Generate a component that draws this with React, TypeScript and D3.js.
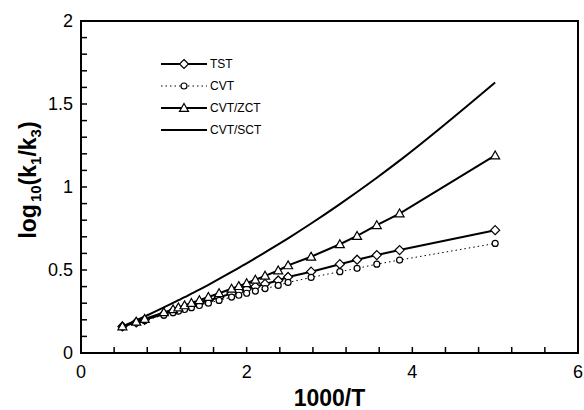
import React from "react";
import * as d3 from "d3";

// 1000/T values shared by every series
const invT = [
  0.5, 0.667, 0.769, 1.0, 1.111, 1.176, 1.25, 1.333, 1.429, 1.538, 1.667,
  1.818, 1.905, 2.0, 2.105, 2.222, 2.381, 2.5, 2.778, 3.125, 3.333, 3.571,
  3.846, 5.0
];

// log10(k1/k3) for each method
const tst = [
  0.16, 0.185, 0.2, 0.235, 0.252, 0.262, 0.273, 0.285, 0.3, 0.316, 0.335,
  0.358, 0.371, 0.385, 0.4, 0.416, 0.437, 0.458, 0.49, 0.535, 0.562, 0.59,
  0.62, 0.74
];
const cvt = [
  0.158, 0.182, 0.196, 0.228, 0.243, 0.252, 0.262, 0.273, 0.286, 0.3, 0.317,
  0.337, 0.348, 0.36, 0.373, 0.388, 0.407, 0.425, 0.455, 0.49, 0.51, 0.535,
  0.56, 0.66
];
const zct = [
  0.16, 0.188, 0.205, 0.245, 0.263, 0.274, 0.287, 0.301, 0.318, 0.337, 0.36,
  0.387, 0.403, 0.42, 0.441, 0.465, 0.497, 0.528, 0.58, 0.655, 0.705, 0.77,
  0.84, 1.19
];
const sct = [
  0.16, 0.197, 0.22, 0.275, 0.302, 0.318, 0.336, 0.358, 0.382, 0.411, 0.446,
  0.488, 0.513, 0.54, 0.571, 0.606, 0.654, 0.691, 0.78, 0.897, 0.97, 1.056,
  1.159, 1.63
];

const legendNames = ["TST", "CVT", "CVT/ZCT", "CVT/SCT"];
const xTicks = [0, 2, 4, 6];
const yTicks = [0, 0.5, 1, 1.5, 2];

const FONT = "'Liberation Sans', Arial, sans-serif";
const W = 584,
  H = 410;
const margin = { left: 81, right: 6, top: 21, bottom: 57 };

const x = d3.scaleLinear().domain([0, 6]).range([margin.left, W - margin.right]);
const y = d3.scaleLinear().domain([0, 2]).range([H - margin.bottom, margin.top]);

type Pt = [number, number];
const line = d3
  .line<Pt>()
  .x(d => x(d[0]))
  .y(d => y(d[1]));
const smooth = d3
  .line<Pt>()
  .curve(d3.curveMonotoneX)
  .x(d => x(d[0]))
  .y(d => y(d[1]));

const zip = (vals: number[]): Pt[] => invT.map((t, i) => [t, vals[i]]);

// marker shapes
const diamond = (cx: number, cy: number, r = 4.5) =>
  `M${cx},${cy - r}L${cx + r},${cy}L${cx},${cy + r}L${cx - r},${cy}Z`;
const triangle = (cx: number, cy: number, r = 4.5) =>
  `M${cx},${cy - r}L${cx + r},${cy + r * 0.75}L${cx - r},${cy + r * 0.75}Z`;

function Marker({ kind, cx, cy }: { kind: string; cx: number; cy: number }) {
  if (kind === "diamond")
    return <path d={diamond(cx, cy)} fill="#fff" stroke="#000" strokeWidth={1.2} />;
  if (kind === "circle")
    return <circle cx={cx} cy={cy} r={3} fill="#fff" stroke="#000" strokeWidth={1.2} />;
  if (kind === "triangle")
    return <path d={triangle(cx, cy)} fill="#fff" stroke="#000" strokeWidth={1.2} />;
  return null;
}

const series = [
  { name: legendNames[0], vals: tst, marker: "diamond", width: 2, dash: "", gen: line },
  { name: legendNames[1], vals: cvt, marker: "circle", width: 1, dash: "1.5,3", gen: line },
  { name: legendNames[2], vals: zct, marker: "triangle", width: 2, dash: "", gen: line },
  { name: legendNames[3], vals: sct, marker: "none", width: 2, dash: "", gen: smooth }
];

export default function App() {
  const x0 = margin.left,
    x1 = W - margin.right,
    y0 = H - margin.bottom,
    y1 = margin.top;
  const xMinor = d3.range(0, 6.001, 0.4);
  const yMinor = d3.range(0, 2.001, 0.1);

  return (
    <svg
      width={W}
      height={H}
      style={{ position: "absolute", left: 0, top: 0, background: "#fff" }}
      fontFamily={FONT}
    >
      <rect x={0} y={0} width={W} height={H} fill="#fff" />

      {/* data lines */}
      {series.map(s => (
        <path
          key={s.name}
          d={s.gen(zip(s.vals)) || ""}
          fill="none"
          stroke="#000"
          strokeWidth={s.width}
          strokeDasharray={s.dash || undefined}
        />
      ))}
      {/* markers */}
      {series.map(s =>
        s.marker === "none"
          ? null
          : zip(s.vals).map((d, i) => (
              <Marker key={s.name + i} kind={s.marker} cx={x(d[0])} cy={y(d[1])} />
            ))
      )}

      {/* frame */}
      <rect x={x0} y={y1} width={x1 - x0} height={y0 - y1} fill="none" stroke="#000" strokeWidth={2} />

      {/* ticks */}
      {xMinor.map((t, i) => (
        <line key={"xt" + i} x1={x(t)} x2={x(t)} y1={y0} y2={y0 - 6} stroke="#000" strokeWidth={1.5} />
      ))}
      {yMinor.map((t, i) => (
        <line key={"yt" + i} x1={x0} x2={x0 + 6} y1={y(t)} y2={y(t)} stroke="#000" strokeWidth={1.5} />
      ))}

      {/* tick labels */}
      {xTicks.map(t => (
        <text key={"xl" + t} x={x(t)} y={y0 + 25} fontSize={18} textAnchor="middle">
          {t}
        </text>
      ))}
      {yTicks.map(t => (
        <text key={"yl" + t} x={x0 - 8} y={y(t) + 6} fontSize={18} textAnchor="end">
          {t}
        </text>
      ))}

      {/* axis titles */}
      <text x={(x0 + x1) / 2} y={406} fontSize={23} fontWeight="bold" textAnchor="middle">
        1000/T
      </text>
      <text
        transform={`translate(36,180) rotate(-90)`}
        fontSize={23}
        fontWeight="bold"
        textAnchor="middle"
      >
        log
        <tspan fontSize={15} dy={5} dx={2}>10</tspan>
        <tspan dy={-5}>(k</tspan>
        <tspan fontSize={15} dy={5}>1</tspan>
        <tspan dy={-5}>/k</tspan>
        <tspan fontSize={15} dy={5}>3</tspan>
        <tspan dy={-5}>)</tspan>
      </text>

      {/* legend */}
      {series.map((s, i) => {
        const ly = 64 + i * 22;
        return (
          <g key={"lg" + s.name}>
            <line
              x1={161}
              x2={207}
              y1={ly}
              y2={ly}
              stroke="#000"
              strokeWidth={s.width}
              strokeDasharray={s.dash || undefined}
            />
            <Marker kind={s.marker} cx={184} cy={ly} />
            <text x={210} y={ly + 4} fontSize={12}>
              {s.name}
            </text>
          </g>
        );
      })}
    </svg>
  );
}
